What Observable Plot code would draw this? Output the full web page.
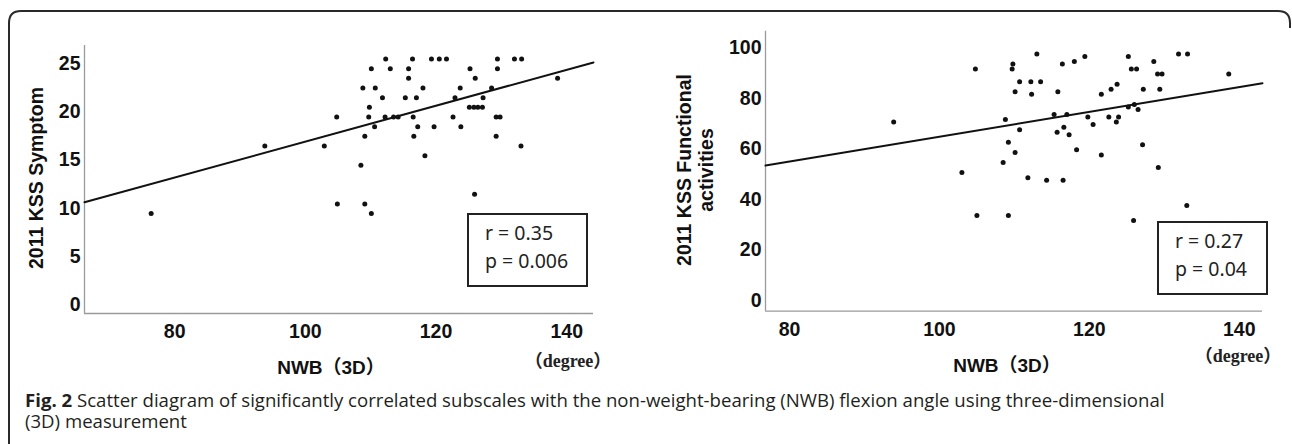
<!DOCTYPE html>
<html>
<head>
<meta charset="utf-8">
<script src="https://cdn.jsdelivr.net/npm/d3@7"></script>
<script src="https://cdn.jsdelivr.net/npm/@observablehq/plot@0.6"></script>
<style>
  html, body { margin: 0; padding: 0; background: #fff; }
  #fig { position: relative; width: 1292px; height: 444px; overflow: hidden; background: #fff; }
  .abs { position: absolute; }
  .ytitle { font-family: "Liberation Sans", Arial, sans-serif; font-weight: bold; font-size: 19.5px; color: #111;
            text-align: center; line-height: 22px; white-space: nowrap; transform: translate(-50%, -50%) rotate(-90deg); }
  .xtitle { font-family: "Liberation Sans", Arial, "Noto Sans CJK JP", sans-serif; font-weight: bold; font-size: 19px; color: #111;
            white-space: nowrap; transform: translate(-50%, -50%); }
  .unit { font-family: "Liberation Serif", "DejaVu Serif", "Noto Sans CJK JP", serif; font-weight: bold; font-size: 18px; color: #222;
          white-space: nowrap; transform: translate(-50%, -50%); }
  .stat { border: 2px solid #222; box-sizing: border-box; font-family: "Noto Sans", "Open Sans", sans-serif; font-size: 19.5px;
          color: #222; line-height: 28px; padding: 4px 0 0 16px; white-space: nowrap; }
  .caption { font-family: "Open Sans", "Noto Sans", sans-serif; font-size: 18.6px; color: #231f20; line-height: 21px; height: 21px; white-space: nowrap; }
  .caption b { font-weight: bold; }
</style>
</head>
<body>
<div id="fig"></div>
<script>
// ---------- data ----------
const xTicks = [80, 100, 120, 140];
const yTicksLeft = [0, 5, 10, 15, 20, 25];
const yTicksRight = [0, 20, 40, 60, 80, 100];

// Left panel: NWB (3D) flexion angle vs 2011 KSS Symptom
const leftX = [76.4, 93.8, 102.9, 104.8, 104.9, 108.5, 108.8, 109.1, 109.1, 109.7, 109.8, 110.1, 110.1, 110.6, 110.7,
  111.8, 112.2, 112.3, 113.0, 113.5, 114.2, 115.3, 115.8, 115.8, 116.4, 116.5, 116.6, 117.0, 117.2, 118.0, 118.3,
  119.3, 119.7, 120.5, 121.6, 122.6, 122.9, 123.7, 123.8, 125.1, 125.2, 125.8, 125.9, 126.0, 126.4, 127.1, 127.2,
  128.5, 129.2, 129.2, 129.4, 129.4, 129.8, 132.0, 133.0, 133.1, 138.6];
const leftY = [9, 16, 16, 19, 10, 14, 22, 17, 10, 19, 20, 24, 9, 18, 22,
  21, 19, 25, 24, 19, 19, 21, 24, 23, 25, 19, 17, 21, 18, 22, 15,
  25, 18, 25, 25, 19, 21, 22, 18, 20, 24, 20, 11, 23, 20, 20, 21,
  22, 19, 17, 25, 24, 19, 25, 16, 25, 23];

// Right panel: NWB (3D) flexion angle vs 2011 KSS Functional activities
const rightX = [93.9, 104.8, 109.8, 109.7, 113.0, 110.7, 112.2, 113.5, 110.1, 112.3, 115.8, 116.4, 108.8, 115.3, 110.7,
  115.7, 109.2, 110.1, 108.5, 103.0, 111.8, 114.3, 116.5, 118.0, 119.4, 125.2, 131.9, 133.1, 128.6, 125.6,
  126.3, 129.1, 129.7, 138.6, 123.7, 122.9, 121.6, 127.2, 129.4, 117.0, 119.8, 122.6, 123.9, 125.2, 126.0,
  126.5, 123.6, 120.5, 116.6, 117.3, 118.3, 121.6, 127.1, 129.2, 133.0, 105.0, 109.2, 125.9];
const rightY = [69, 90, 92, 90, 96, 85, 85, 85, 81, 80, 81, 92, 70, 72, 66,
  65, 61, 57, 53, 49, 47, 46, 46, 93, 95, 95, 96, 96, 93, 90,
  90, 88, 88, 88, 84, 82, 80, 82, 82, 72, 71, 71, 71, 75, 76,
  74, 69, 68, 67, 64, 58, 56, 60, 51, 36, 32, 32, 30];

// fitted regression lines
const fitLeft = { intercept: -2.14, slope: 0.1859 };
const fitRight = { intercept: 14.06, slope: 0.4915 };

const statsText = [
  { r: "r = 0.35", p: "p = 0.006" },
  { r: "r = 0.27", p: "p = 0.04" }
];
const yTitles = [["2011 KSS Symptom"], ["2011 KSS Functional", "activities"]];
const xTitle = "NWB（3D）";
const unitLabel = "（degree）";
const captionBold = "Fig. 2";
const captionText = " Scatter diagram of significantly correlated subscales with the non-weight-bearing (NWB) flexion angle using three-dimensional";
const captionText2 = "(3D) measurement";

// ---------- drawing ----------
const fig = document.getElementById("fig");

function panel({xs, ys, fit, xDomain, yDomain, yTicks, width, height, margins, yDy}) {
  const pts = xs.map((x, i) => ({x, y: ys[i]}));
  const line = xDomain.map(x => ({x, y: fit.intercept + fit.slope * x}));
  return Plot.plot({
    width, height,
    marginLeft: margins[0], marginRight: margins[1], marginTop: margins[2], marginBottom: margins[3],
    x: {domain: xDomain},
    y: {domain: yDomain},
    style: {fontFamily: "Liberation Sans, Arial, sans-serif", fontSize: "19.5px", fontWeight: "bold", color: "#111", background: "transparent", overflow: "visible"},
    marks: [
      Plot.ruleX([xDomain[0]], {stroke: "#9a9a9a", strokeWidth: 1.3}),
      Plot.ruleY([yDomain[0]], {stroke: "#9a9a9a", strokeWidth: 1.3}),
      Plot.axisY({ticks: yTicks, tickSize: 0, tickPadding: 4, label: null, dy: yDy, fill: "#111", fontSize: 19.5}),
      Plot.axisX({ticks: xTicks, tickSize: 0, tickPadding: 11, label: null, fill: "#111", fontSize: 19.5}),
      Plot.line(line, {x: "x", y: "y", stroke: "#111", strokeWidth: 2}),
      Plot.dot(pts, {x: "x", y: "y", r: 2.5, fill: "#111", stroke: null})
    ]
  });
}

const left = panel({xs: leftX, ys: leftY, fit: fitLeft, xDomain: [66.2, 144.1], yDomain: [-1.34, 26.4],
  yTicks: yTicksLeft, width: 640, height: 370, margins: [84, 47, 45, 57], yDy: 4.4});
left.style.position = "absolute"; left.style.left = "0px"; left.style.top = "0px";
fig.appendChild(left);

const right = panel({xs: rightX, ys: rightY, fit: fitRight, xDomain: [76.8, 143.1], yDomain: [-5.9, 105],
  yTicks: yTicksRight, width: 652, height: 370, margins: [125, 30, 30.7, 59.3], yDy: 4.3});
right.style.position = "absolute"; right.style.left = "640px"; right.style.top = "0px";
fig.appendChild(right);

function addDiv(cls, html, x, y, extra) {
  const d = document.createElement("div");
  d.className = "abs " + cls;
  d.innerHTML = html;
  d.style.left = x + "px"; d.style.top = y + "px";
  if (extra) Object.assign(d.style, extra);
  fig.appendChild(d);
  return d;
}

// axis titles
addDiv("ytitle", yTitles[0].join("<br>"), 36, 178);
addDiv("ytitle", yTitles[1].join("<br>"), 695, 170);
addDiv("xtitle", xTitle, 331, 365);
addDiv("xtitle", xTitle, 1007, 363);
addDiv("unit", unitLabel, 568, 359);
addDiv("unit", unitLabel, 1238, 354);

// stats boxes
addDiv("stat", statsText[0].r + "<br>" + statsText[0].p, 467, 213, {width: "121px", height: "74px"});
addDiv("stat", statsText[1].r + "<br>" + statsText[1].p, 1157, 221, {width: "111px", height: "74px"});

// caption (two lines)
addDiv("caption", "<b>" + captionBold + "</b>" + captionText, 25, 389);
addDiv("caption", captionText2, 25, 410);

// decorative figure border
const ns = "http://www.w3.org/2000/svg";
const border = document.createElementNS(ns, "svg");
border.setAttribute("width", 1292); border.setAttribute("height", 444);
border.style.position = "absolute"; border.style.left = "0"; border.style.top = "0"; border.style.pointerEvents = "none";
const path = document.createElementNS(ns, "path");
path.setAttribute("d", "M9 444 L9 23 Q9 11 21 11 L1278 11 Q1290 11 1290 23 L1290 28");
path.setAttribute("fill", "none"); path.setAttribute("stroke", "#2a2a2a"); path.setAttribute("stroke-width", "2");
border.appendChild(path);
fig.appendChild(border);
</script>
</body>
</html>
